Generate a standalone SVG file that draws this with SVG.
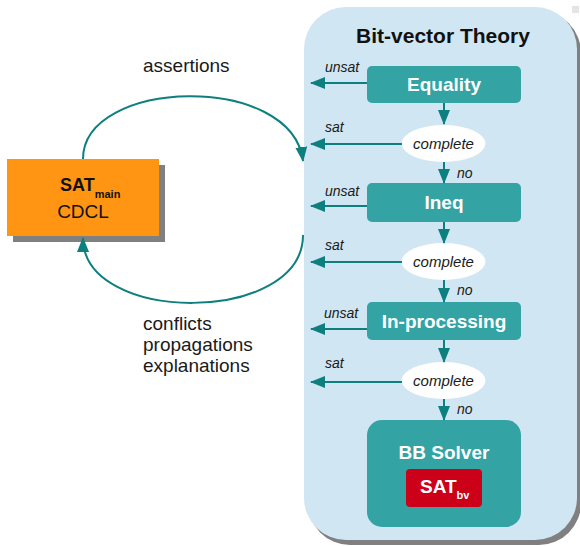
<svg xmlns="http://www.w3.org/2000/svg" width="580" height="546" viewBox="0 0 580 546">
<defs>
<style>
.lbl{font-family:"Liberation Sans",Arial,sans-serif;font-size:19px;fill:#1a1a1a}
.it{font-family:"Liberation Sans",Arial,sans-serif;font-size:14px;font-style:italic;fill:#1a1a1a}
.box{fill:#33a3a3}
.bt{font-family:"Liberation Sans",Arial,sans-serif;font-size:19px;font-weight:bold;fill:#ffffff;text-anchor:middle}
.ell{fill:#ffffff}
.et{font-family:"Liberation Sans",Arial,sans-serif;font-size:15px;font-style:italic;fill:#1a1a1a;text-anchor:middle}
.edge{fill:none;stroke:#0e7f7f;stroke-width:2}
</style>
<marker id="ah2" viewBox="0 0 15 12" refX="14" refY="6" markerWidth="15" markerHeight="12" markerUnits="userSpaceOnUse" orient="auto">
<path d="M0,0 L15,6 L0,12 Z" fill="#0e7f7f"/>
</marker>
</defs>
<rect x="572" y="6" width="7" height="7" fill="#e4e4e4"/>
<g id="panel">
<rect x="308" y="11" width="273" height="534" rx="42" fill="#808080"/>
<rect x="304" y="7" width="273" height="533" rx="42" fill="#d0e6f3"/>
<text x="443" y="43" font-family="'Liberation Sans',Arial,sans-serif" font-size="21" font-weight="bold" fill="#111" text-anchor="middle">Bit-vector Theory</text>
</g>
<g id="sat-main">
<rect x="13" y="165" width="152" height="77" fill="#808080"/>
<rect x="7" y="159" width="152" height="77" fill="#ff9512"/>
<text x="60" y="191" font-family="'Liberation Sans',Arial,sans-serif" font-size="18" font-weight="bold" fill="#111">SAT<tspan font-size="11" dy="7">main</tspan></text>
<text x="83" y="218" font-family="'Liberation Sans',Arial,sans-serif" font-size="19" fill="#111" text-anchor="middle">CDCL</text>
</g>
<g id="equality">
<rect class="box" x="367" y="66" width="154" height="37" rx="5"/>
<text class="bt" x="444" y="91">Equality</text>
</g>
<g id="complete1">
<ellipse class="ell" cx="443.5" cy="143.5" rx="42" ry="18.5"/>
<text class="et" x="443.5" y="149">complete</text>
</g>
<g id="ineq">
<rect class="box" x="367" y="183" width="154" height="39" rx="5"/>
<text class="bt" x="444" y="209">Ineq</text>
</g>
<g id="complete2">
<ellipse class="ell" cx="443.5" cy="261.5" rx="42" ry="18.5"/>
<text class="et" x="443.5" y="267">complete</text>
</g>
<g id="inprocessing">
<rect class="box" x="367" y="302" width="154" height="38" rx="5"/>
<text class="bt" x="444" y="328">In-processing</text>
</g>
<g id="complete3">
<ellipse class="ell" cx="443.5" cy="380.5" rx="42" ry="18.5"/>
<text class="et" x="443.5" y="386">complete</text>
</g>
<g id="bbsolver">
<rect class="box" x="367" y="420" width="154" height="107" rx="15"/>
<text class="bt" x="444" y="459">BB Solver</text>
<rect x="406" y="469" width="76" height="38" rx="4" fill="#cc0018"/>
<text x="420" y="493" font-family="'Liberation Sans',Arial,sans-serif" font-size="19" font-weight="bold" fill="#fff">SAT<tspan font-size="11" dy="6">bv</tspan></text>
</g>
<g id="connectors">
<path class="edge" d="M83,159 C83,78 292,72 303,161" marker-end="url(#ah2)"/>
<path class="edge" d="M303,235 C303,325 83,325 83,238" marker-end="url(#ah2)"/>
<path class="edge" d="M444,103 L444,124" marker-end="url(#ah2)"/>
<path class="edge" d="M444,162 L444,183" marker-end="url(#ah2)"/>
<path class="edge" d="M444,222 L444,243" marker-end="url(#ah2)"/>
<path class="edge" d="M444,280 L444,302" marker-end="url(#ah2)"/>
<path class="edge" d="M444,340 L444,362" marker-end="url(#ah2)"/>
<path class="edge" d="M444,399 L444,420" marker-end="url(#ah2)"/>
<path class="edge" d="M367,83 L311,83" marker-end="url(#ah2)"/>
<path class="edge" d="M402,144 L311,144" marker-end="url(#ah2)"/>
<path class="edge" d="M367,206 L311,206" marker-end="url(#ah2)"/>
<path class="edge" d="M402,262 L311,262" marker-end="url(#ah2)"/>
<path class="edge" d="M367,329 L311,329" marker-end="url(#ah2)"/>
<path class="edge" d="M402,382 L311,382" marker-end="url(#ah2)"/>
</g>
<g id="labels">
<text class="lbl" x="143" y="72">assertions</text>
<text class="lbl" x="143" y="330">conflicts</text>
<text class="lbl" x="143" y="351">propagations</text>
<text class="lbl" x="143" y="372">explanations</text>
<text class="it" x="325" y="72">unsat</text>
<text class="it" x="325" y="132">sat</text>
<text class="it" x="325" y="196">unsat</text>
<text class="it" x="325" y="250">sat</text>
<text class="it" x="324" y="318">unsat</text>
<text class="it" x="325" y="368">sat</text>
<text class="it" x="457" y="178">no</text>
<text class="it" x="457" y="295">no</text>
<text class="it" x="457" y="414">no</text>
</g>
</svg>
